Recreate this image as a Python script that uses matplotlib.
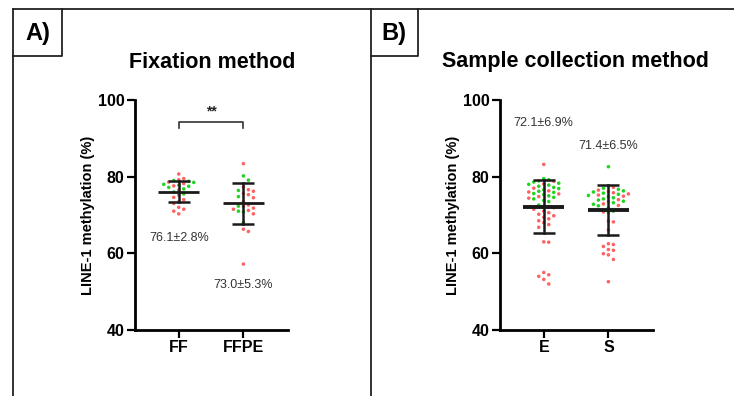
import numpy as np
import matplotlib
matplotlib.use("Agg")
import matplotlib.pyplot as plt
from matplotlib.lines import Line2D

plt.rcParams['font.family'] = ['Liberation Sans', 'DejaVu Sans']

# ---------------- data ----------------
groups_a = ["FF", "FFPE"]
groups_b = ["E", "S"]

ff_green = [79.0, 78.8, 78.5, 78.0, 77.8, 77.5, 77.2, 76.8, 76.0, 75.5]
ff_red = [80.7, 79.5, 79.2, 78.6, 78.2, 77.6, 76.5, 75.2, 74.6, 74.0, 73.5,
          73.0, 72.0, 71.5, 71.0, 70.3]
ffpe_green = [80.2, 79.1, 76.4, 74.8, 72.3, 71.0, 70.8, 68.0]
ffpe_red = [83.4, 77.3, 76.6, 76.2, 75.6, 75.3, 74.5, 73.5, 72.6, 72.2, 71.8,
            71.5, 71.2, 70.3, 66.3, 65.7, 57.2]
e_green = [79.5, 79.2, 78.9, 78.6, 78.3, 78.0, 77.8, 77.5, 77.2, 76.9, 76.6,
           76.2, 75.9, 75.6, 75.3, 75.0, 74.6, 74.2, 73.8, 73.5, 72.6, 72.3]
e_red = [83.2, 78.8, 78.1, 77.0, 76.3, 76.0, 75.5, 74.8, 74.4, 72.2, 71.9,
         71.5, 71.0, 70.6, 70.2, 69.8, 69.4, 69.0, 68.5, 68.0, 67.5, 66.8,
         63.0, 62.9, 55.0, 54.4, 54.0, 53.2, 52.0]
s_green = [82.6, 77.5, 77.0, 76.7, 76.3, 76.0, 75.7, 75.4, 75.1, 74.8, 74.5,
           74.2, 73.9, 73.6, 73.2, 72.8, 72.4, 71.9, 71.0, 70.6]
s_red = [77.2, 76.5, 76.1, 75.8, 75.5, 75.2, 74.9, 74.0, 73.5, 72.9, 72.5,
         70.8, 68.4, 68.2, 66.1, 62.5, 62.3, 61.8, 61.0, 60.8, 59.9, 59.6,
         58.4, 52.6]

means_a = [76.1, 73.0]
sds_a = [2.8, 5.3]
means_b = [72.1, 71.4]
sds_b = [6.9, 6.5]
labels_a = ["76.1±2.8%", "73.0±5.3%"]
labels_b = ["72.1±6.9%", "71.4±6.5%"]
label_y_a = [64.0, 51.7]
label_y_b = [94.0, 88.0]

panel_titles = ["Fixation method", "Sample collection method"]
panel_letters = ["A)", "B)"]
ylabel = "LINE-1 methylation (%)"
yticks = [40, 60, 80, 100]
signif = "**"

GREEN = "#22d422"
RED = "#ff6262"
LINE = "#1a1a1a"

W, H = 734, 396
fig = plt.figure(figsize=(W / 100, H / 100), dpi=100)


def fx(x):
    return x / W


def fy(y):
    return 1 - y / H


def swarm(values, ax, d_px=5.0):
    p0 = ax.transData.transform((0, 0))
    p1 = ax.transData.transform((1, 1))
    sx = p1[0] - p0[0]
    sy = p1[1] - p0[1]
    values = np.asarray(values, float)
    order = np.argsort(-values, kind="stable")
    placed = []
    offs = np.zeros(len(values))
    for i in order:
        y = values[i] * sy
        cand = 0.0
        for k in range(0, 60):
            cand = 0.0 if k == 0 else ((k + 1) // 2) * d_px * (1 if k % 2 else -1)
            if all((cand - px) ** 2 + (y - py) ** 2 >= (d_px * 0.98) ** 2 for px, py in placed):
                break
        placed.append((cand, y))
        offs[i] = cand / sx
    return offs


def make_panel(left_px, cats, greens, reds, means, sds, labels, label_ys, mean_lw):
    ax = fig.add_axes([fx(left_px), fy(330), 153 / W, (330 - 100) / H])
    ax.set_xlim(-0.677, 1.69)
    ax.set_ylim(40, 100)
    for sp in ["top", "right"]:
        ax.spines[sp].set_visible(False)
    for sp in ["left", "bottom"]:
        ax.spines[sp].set_linewidth(2.0)
    ax.set_yticks(yticks)
    ax.set_xticks(range(len(cats)))
    ax.set_xticklabels(cats)
    ax.tick_params(axis="both", width=1.6, length=6, pad=1.5, labelsize=11.5)
    for t in ax.get_xticklabels() + ax.get_yticklabels():
        t.set_fontweight("bold")
    ax.set_ylabel(ylabel, fontsize=10.5, fontweight="bold", labelpad=2)
    for i in range(len(cats)):
        vals = list(greens[i]) + list(reds[i])
        cols = [GREEN] * len(greens[i]) + [RED] * len(reds[i])
        offs = swarm(vals, ax)
        ax.scatter(i + offs, vals, s=6.5, c=cols, linewidths=0, zorder=2, clip_on=False)
        m, s = means[i], sds[i]
        ax.plot([i - 0.32, i + 0.32], [m, m], color=LINE, lw=mean_lw, zorder=3,
                solid_capstyle="butt")
        ax.plot([i, i], [m - s, m + s], color=LINE, lw=1.8, zorder=3)
        for yy in (m - s, m + s):
            ax.plot([i - 0.17, i + 0.17], [yy, yy], color=LINE, lw=1.8, zorder=3,
                    solid_capstyle="butt")
        ax.text(i, label_ys[i], labels[i], ha="center", va="center", fontsize=9,
                color="#333333")
    return ax


ax_a = make_panel(135, groups_a, [ff_green, ffpe_green], [ff_red, ffpe_red],
                  means_a, sds_a, labels_a, label_y_a, 2.0)
ax_b = make_panel(500, groups_b, [e_green, s_green], [e_red, s_red],
                  means_b, sds_b, labels_b, label_y_b, 2.8)

# significance bracket (panel A)
ax_a.plot([0, 0, 1, 1], [92.7, 94.3, 94.3, 92.7], color="#333333", lw=1.2,
          clip_on=False)
ax_a.text(0.5, 97.0, signif, ha="center", va="center", fontsize=10,
          fontweight="bold", color="#222222")

# titles
fig.text(fx(212), fy(62), panel_titles[0], ha="center", va="center",
         fontsize=15.5, fontweight="bold")
fig.text(fx(575), fy(62), panel_titles[1], ha="center", va="center",
         fontsize=15.5, fontweight="bold")

# frame lines
fl = dict(color="#222222", lw=1.3, transform=fig.transFigure)
fig.add_artist(Line2D([fx(13), fx(734)], [fy(9), fy(9)], **fl))
fig.add_artist(Line2D([fx(13), fx(13)], [fy(9), fy(396)], **fl))
fig.add_artist(Line2D([fx(371), fx(371)], [fy(9), fy(396)], **fl))
# letter boxes
fig.add_artist(Line2D([fx(13), fx(62), fx(62)], [fy(56), fy(56), fy(9)], **fl))
fig.add_artist(Line2D([fx(371), fx(418), fx(418)], [fy(56), fy(56), fy(9)], **fl))
fig.text(fx(38), fy(33.5), panel_letters[0], ha="center", va="center",
         fontsize=17, fontweight="bold")
fig.text(fx(394), fy(33.5), panel_letters[1], ha="center", va="center",
         fontsize=17, fontweight="bold")

fig.savefig("out.png", dpi=100)
